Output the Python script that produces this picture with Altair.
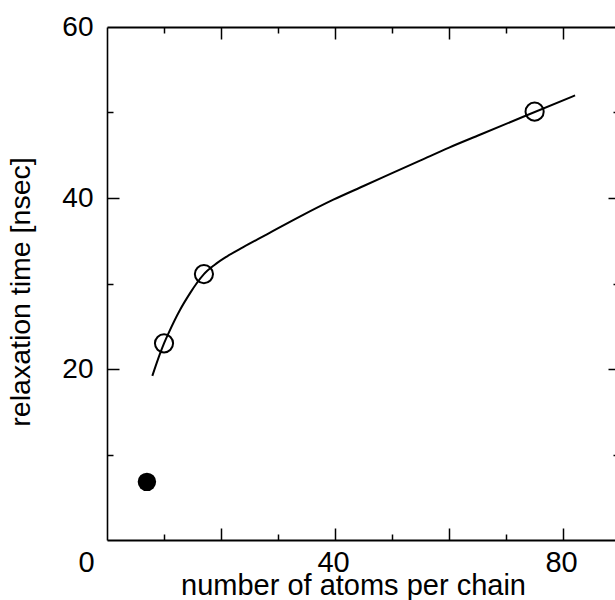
import altair as alt
import pandas as pd

# ---- data ----
open_x = [10, 17, 75]
open_y = [23.0, 31.1, 50.1]
filled_x = [7]
filled_y = [6.8]
curve_x = [7.95, 9.3, 10.0, 10.8, 12.8, 14.6, 15.7, 17.0, 18.9, 21.0, 23.9, 28.6, 33.9, 39.7, 45, 50, 55, 60, 65.4, 73.0, 82.1]
curve_y = [19.2, 21.8, 23.0, 24.2, 26.9, 28.9, 30.0, 31.1, 32.2, 33.15, 34.25, 35.95, 37.85, 39.8, 41.4, 42.9, 44.4, 45.9, 47.4, 49.5, 52.0]

x_labels = [0, 40, 80]
y_labels = [20, 40, 60]
x_major = [20, 40, 60, 80]
x_minor = [10, 30, 50, 70]
y_major = [20, 40]
y_minor = [10, 30, 50]

FONT = "Liberation Sans"
X_DOM = [0, 89.1]
Y_DOM = [0, 60]

curve = pd.DataFrame({"x": curve_x, "y": curve_y})
opens = pd.DataFrame({"x": open_x, "y": open_y})
filled = pd.DataFrame({"x": filled_x, "y": filled_y})


def xs(axis):
    return alt.X("x:Q", scale=alt.Scale(domain=X_DOM, nice=False, zero=False), axis=axis)


def ys(axis):
    return alt.Y("y:Q", scale=alt.Scale(domain=Y_DOM, nice=False, zero=False), axis=axis)


def tick_axis(orient, values, size, width=1.5):
    return alt.Axis(orient=orient, values=values, tickSize=size, offset=-size,
                    tickWidth=width, tickColor="black", ticks=True, domain=False,
                    labels=False, grid=False, title=None)


x_main = alt.Axis(
    orient="bottom", values=x_labels, ticks=False, domain=True, domainColor="black",
    domainWidth=2, grid=False, labelFont=FONT, labelFontSize=29, labelColor="black",
    labelPadding=8, labelBaseline="top", labelFlush=False, labelOverlap=False,
    labelOffset={"condition": {"test": "datum.value == 0", "value": -21}, "value": -2},
    title="number of atoms per chain", titleFont=FONT, titleFontSize=29,
    titleFontWeight="normal", titleColor="black", titleX=246, titleY=54,
    titleAlign="center", titleBaseline="alphabetic",
)

y_main = alt.Axis(
    orient="left", values=y_labels, ticks=False, domain=True, domainColor="black",
    domainWidth=1.6, grid=False, labelFont=FONT, labelFontSize=28, labelColor="black",
    labelPadding=14, labelAlign="right", labelBaseline="middle", labelFlush=False,
    labelOverlap=False,
    title="relaxation time [nsec]", titleFont=FONT, titleFontSize=28.5,
    titleFontWeight="normal", titleColor="black", titleX=-87, titleY=264.5,
    titleAngle=270, titleAlign="center", titleBaseline="middle",
)

top_domain = alt.Axis(orient="top", domain=True, domainColor="black", domainWidth=2,
                      ticks=False, labels=False, grid=False, title=None)

line = alt.Chart(curve).mark_line(color="black", strokeWidth=2, interpolate="monotone").encode(
    x=xs(x_main), y=ys(y_main))

open_pts = alt.Chart(opens).mark_point(shape="circle", filled=False, color="black",
                                       strokeWidth=2, size=330, opacity=1).encode(
    x=xs(tick_axis("bottom", x_major, 12)), y=ys(tick_axis("left", y_major, 12)))

filled_pts = alt.Chart(filled).mark_circle(color="black", size=340, opacity=1).encode(
    x=xs(tick_axis("bottom", x_minor, 6)), y=ys(tick_axis("left", y_minor, 6)))

ghost1 = alt.Chart(curve).mark_point(opacity=0).encode(
    x=xs(top_domain), y=ys(tick_axis("right", y_major, 7)))

ghost2 = alt.Chart(curve).mark_point(opacity=0).encode(
    x=xs(tick_axis("top", x_major, 12)), y=ys(tick_axis("right", y_minor, 2)))

ghost3 = alt.Chart(curve).mark_point(opacity=0).encode(
    x=xs(tick_axis("top", x_minor, 6)), y=ys(None))

chart = alt.layer(line, open_pts, filled_pts, ghost1, ghost2, ghost3).resolve_axis(
    x="independent", y="independent"
).properties(
    width=508, height=513,
    autosize=alt.AutoSizeParams(type="none"),
    padding={"left": 107, "top": 27, "right": 0, "bottom": 60},
    background="white",
).configure_view(stroke=None)

chart.save("out.html", embed_options={"renderer": "svg", "actions": False})
